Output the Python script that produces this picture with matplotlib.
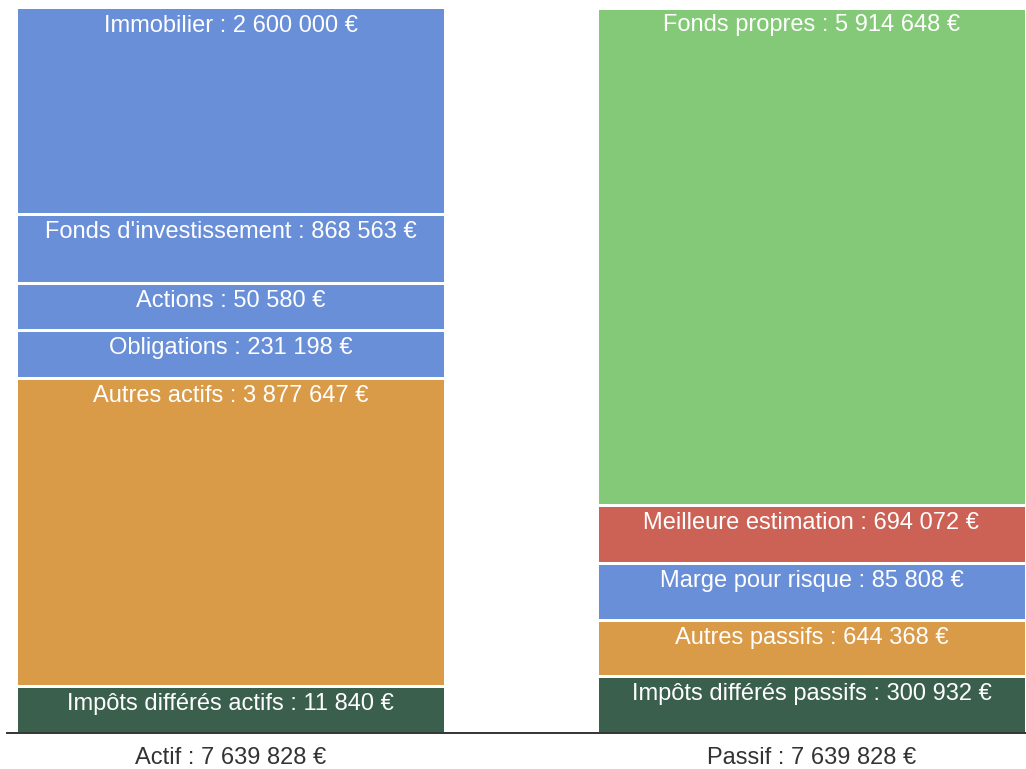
import matplotlib.pyplot as plt
import numpy as np

plt.rcParams['font.family'] = ['Liberation Sans', 'DejaVu Sans']

# données du bilan
columns = ["Actif", "Passif"]

actif_labels = ["Immobilier", "Fonds d'investissement", "Actions", "Obligations",
                "Autres actifs", "Impôts différés actifs"]
actif_values = [2600000, 868563, 50580, 231198, 3877647, 11840]

passif_labels = ["Fonds propres", "Meilleure estimation", "Marge pour risque",
                 "Autres passifs", "Impôts différés passifs"]
passif_values = [5914648, 694072, 85808, 644368, 300932]

# couleurs
blue = "#6A8FD9"
orange = "#DA9B49"
dark_green = "#3A5F4D"
light_green = "#84C977"
red = "#CC6256"

actif_colors = [blue, blue, blue, blue, orange, dark_green]
passif_colors = [light_green, red, blue, orange, dark_green]


def fmt(v):
    return f"{v:,}".replace(",", " ") + " €"


def display_shares(values):
    # hauteur minimale pour que les petits blocs restent lisibles
    v = np.array(values, dtype=float)
    share = v / v.sum()
    min_share = 0.39 / len(v)
    small = share < min_share
    while True:
        out = np.where(small, min_share, 0.0)
        rest = 1 - out.sum()
        out[~small] = share[~small] / share[~small].sum() * rest
        new_small = small | (out < min_share)
        if (new_small == small).all():
            break
        small = new_small
    return out


W, H = 1026, 769
fig = plt.figure(figsize=(W / 100, H / 100), dpi=100)
ax = fig.add_axes([7 / W, 1 - 733 / H, 1019 / W, 725.5 / H])

px = 0.72  # pixels -> points
bar_width = 0.738

for i, (labels, values, colors) in enumerate([
        (actif_labels, actif_values, actif_colors),
        (passif_labels, passif_values, passif_colors)]):
    heights = display_shares(values)
    top = 1.0
    for lab, val, col, h in zip(labels, values, colors, heights):
        ax.bar(i, h, bottom=top - h, width=bar_width, color=col,
               edgecolor="white", linewidth=3 * px)
        ax.annotate(f"{lab} : {fmt(val)}", xy=(i, top), xytext=(0, -24 * px),
                    textcoords="offset points", ha="center", va="baseline",
                    color="white", fontsize=17)
        top -= h
    ax.annotate(f"{columns[i]} : {fmt(sum(values))}", xy=(i, 0),
                xytext=(0, -31 * px), textcoords="offset points",
                ha="center", va="baseline", color="#333333", fontsize=17,
                annotation_clip=False)

ax.set_xlim(-0.3847, 1.3692)
ax.set_ylim(0, 1)
for s in ["top", "right", "left"]:
    ax.spines[s].set_visible(False)
ax.spines["bottom"].set_color("#333333")
ax.spines["bottom"].set_linewidth(1.4)
ax.set_xticks([])
ax.set_yticks([])

plt.savefig("out.png", dpi=100)
